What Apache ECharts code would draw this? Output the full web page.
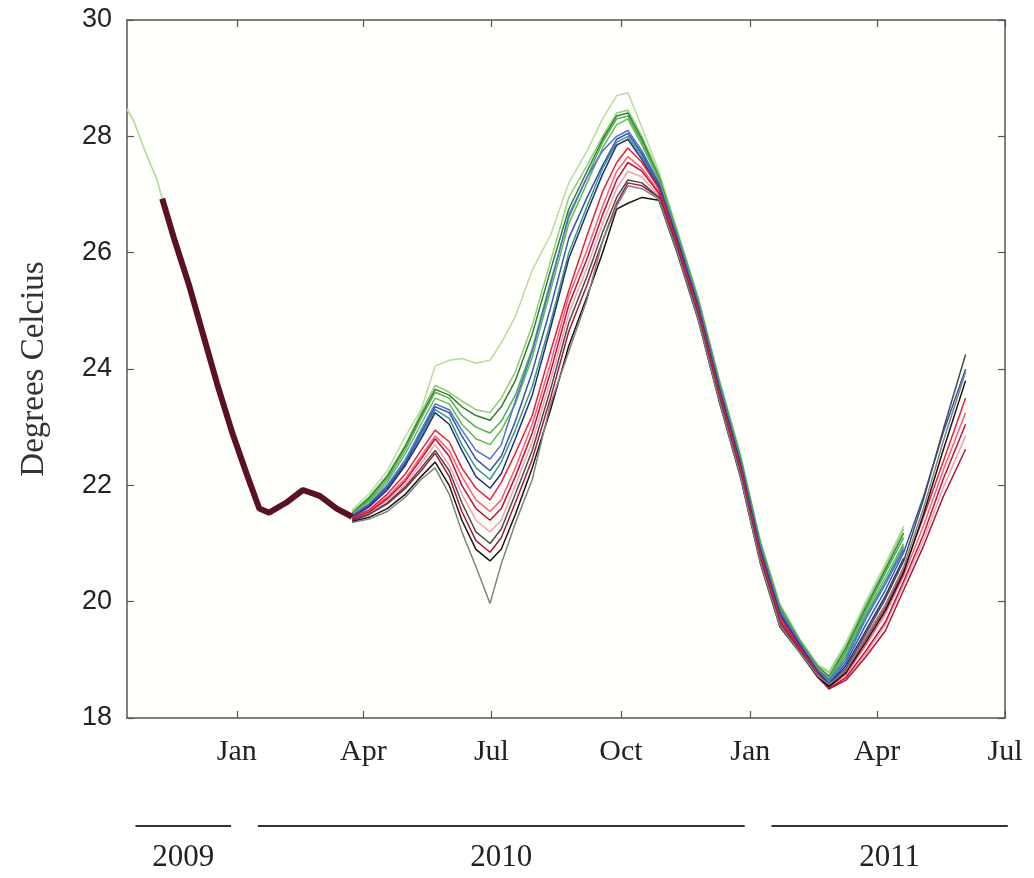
<!DOCTYPE html>
<html>
<head>
<meta charset="utf-8">
<title>Ensemble temperature forecasts</title>
<script src="https://cdn.jsdelivr.net/npm/echarts@6/dist/echarts.min.js"></script>
<style>
  html, body { margin: 0; padding: 0; background: #ffffff; }
  #chart { width: 1034px; height: 878px; }
</style>
</head>
<body>
<div id="chart"></div>
<script>
// Local-time date parsing so every x value uses the same clock.
const toTime = s => { const p = s.split('-').map(Number); return new Date(p[0], p[1] - 1, p[2]).getTime(); };
const MONTHS = ['Jan','Feb','Mar','Apr','May','Jun','Jul','Aug','Sep','Oct','Nov','Dec'];

// ---- Axis ranges and ticks ----
const axisStart = '2009-10-15';
const axisEnd = '2011-07-01';
const quarterTicks = ['2010-01-01','2010-04-01','2010-07-01','2010-10-01','2011-01-01','2011-04-01','2011-07-01'];
const tempMin = 18, tempMax = 30, tempStep = 2;

// ---- Year brackets under the axis ----
const yearLabels = ['2009', '2010', '2011'];
const yearFrom = ['2009-10-21', '2010-01-16', '2011-01-16'];
const yearTo   = ['2009-12-28', '2010-12-28', '2011-07-03'];

// ---- Observed record before the forecasts start ----
const obsDates  = ['2009-10-15','2009-10-20','2009-10-26','2009-11-01','2009-11-05','2009-11-09'];
const obsValues = [28.47, 28.25, 27.86, 27.5, 27.28, 26.93];

// ---- Shared spin-up segment (all members coincide) ----
const spinupDates = ['2009-11-09','2009-11-18','2009-11-28','2009-12-08','2009-12-18','2009-12-29',
  '2010-01-08','2010-01-17','2010-01-24','2010-02-05','2010-02-17','2010-03-01','2010-03-13','2010-03-24'];
const spinupValues = [26.93, 26.2, 25.45, 24.6, 23.75, 22.89, 22.2, 21.6, 21.53, 21.7, 21.92, 21.82, 21.6, 21.46];

// ---- Ensemble members after they separate ----
const memberDates = ['2010-03-24','2010-04-05','2010-04-18','2010-05-01','2010-05-12','2010-05-22',
  '2010-06-01','2010-06-10','2010-06-20','2010-06-30','2010-07-08','2010-07-18','2010-07-30',
  '2010-08-12','2010-08-25','2010-09-07','2010-09-18','2010-09-28','2010-10-06','2010-10-16',
  '2010-10-28','2010-11-10','2010-11-25','2010-12-10','2010-12-25','2011-01-08','2011-01-22',
  '2011-02-05','2011-02-18','2011-02-26','2011-03-10','2011-03-24','2011-04-07','2011-04-20',
  '2011-05-04','2011-05-18','2011-06-03'];

const g1 = [21.58, 21.85, 22.25, 22.85, 23.3, 24.05, 24.15, 24.18, 24.1, 24.15, 24.45, 24.9, 25.7, 26.3, 27.2, 27.75, 28.3, 28.7, 28.75, 28.15, 27.4, 26.4, 25.24, 23.83, 22.54, 21.07, 19.97, 19.37, 18.92, 18.8, 19.3, 20.0, 20.65, 21.3];
const g2 = [21.55, 21.8, 22.18, 22.7, 23.25, 23.72, 23.6, 23.45, 23.3, 23.25, 23.5, 23.95, 24.75, 25.85, 26.95, 27.5, 28.0, 28.4, 28.45, 28.0, 27.35, 26.37, 25.21, 23.8, 22.51, 21.04, 19.94, 19.35, 18.9, 18.78, 19.25, 19.95, 20.6, 21.25];
const g5 = [21.52, 21.78, 22.15, 22.68, 23.2, 23.65, 23.55, 23.35, 23.2, 23.12, 23.35, 23.8, 24.6, 25.7, 26.75, 27.4, 27.95, 28.35, 28.4, 27.95, 27.3, 26.34, 25.18, 23.77, 22.48, 21.01, 19.91, 19.33, 18.88, 18.72, 19.2, 19.9, 20.55, 21.18];
const g3 = [21.5, 21.75, 22.1, 22.62, 23.15, 23.6, 23.5, 23.2, 23.0, 22.9, 23.1, 23.55, 24.35, 25.5, 26.6, 27.3, 27.9, 28.3, 28.35, 27.9, 27.28, 26.32, 25.16, 23.75, 22.46, 20.99, 19.89, 19.32, 18.86, 18.7, 19.15, 19.85, 20.5, 21.1];
const g4 = [21.5, 21.72, 22.05, 22.55, 23.05, 23.5, 23.4, 23.05, 22.8, 22.7, 22.95, 23.4, 24.2, 25.35, 26.5, 27.2, 27.8, 28.2, 28.3, 27.85, 27.25, 26.3, 25.14, 23.73, 22.44, 20.97, 19.87, 19.31, 18.85, 18.68, 19.1, 19.8, 20.42, 21.0];
const g6 = [21.47, 21.65, 21.95, 22.38, 22.85, 23.3, 23.15, 22.7, 22.3, 22.1, 22.4, 22.95, 23.7, 24.8, 26.0, 26.8, 27.45, 27.9, 28.0, 27.65, 27.15, 26.26, 25.1, 23.69, 22.4, 20.93, 19.83, 19.29, 18.83, 18.66, 19.05, 19.75, 20.35, 20.95];
const b1 = [21.48, 21.68, 22.0, 22.45, 22.95, 23.4, 23.3, 22.95, 22.6, 22.45, 22.7, 23.45, 24.3, 25.45, 26.65, 27.3, 27.75, 28.0, 28.1, 27.75, 27.2, 26.28, 25.12, 23.71, 22.42, 20.95, 19.85, 19.3, 18.82, 18.64, 19.0, 19.7, 20.3, 20.9];
const b2 = [21.47, 21.66, 21.97, 22.4, 22.9, 23.35, 23.25, 22.85, 22.45, 22.25, 22.5, 23.1, 23.95, 25.05, 26.25, 26.95, 27.5, 27.95, 28.05, 27.7, 27.18, 26.24, 25.08, 23.67, 22.38, 20.91, 19.81, 19.27, 18.8, 18.6, 18.95, 19.6, 20.2, 20.85, 21.8, 22.9, 24.0];
const b3 = [21.45, 21.63, 21.92, 22.35, 22.8, 23.25, 23.05, 22.6, 22.15, 21.95, 22.2, 22.8, 23.55, 24.7, 25.9, 26.7, 27.35, 27.85, 27.95, 27.6, 27.12, 26.2, 25.04, 23.63, 22.34, 20.87, 19.77, 19.25, 18.78, 18.58, 18.9, 19.5, 20.1, 20.75];
const r1 = [21.44, 21.58, 21.85, 22.2, 22.6, 22.95, 22.75, 22.3, 21.95, 21.75, 22.05, 22.55, 23.2, 24.3, 25.35, 26.3, 27.05, 27.55, 27.8, 27.55, 27.1, 26.16, 25.0, 23.59, 22.3, 20.83, 19.73, 19.22, 18.76, 18.55, 18.8, 19.35, 19.9, 20.55, 21.45, 22.4, 23.5];
const r2 = [21.43, 21.56, 21.8, 22.12, 22.5, 22.85, 22.6, 22.15, 21.75, 21.55, 21.75, 22.3, 23.05, 24.1, 25.25, 26.05, 26.8, 27.4, 27.65, 27.45, 27.05, 26.13, 24.97, 23.56, 22.27, 20.8, 19.7, 19.21, 18.74, 18.52, 18.75, 19.25, 19.8, 20.45, 21.3, 22.25, 23.25];
const r3 = [21.42, 21.54, 21.77, 22.08, 22.45, 22.8, 22.5, 22.0, 21.6, 21.4, 21.6, 22.15, 22.9, 23.95, 25.1, 25.9, 26.65, 27.25, 27.55, 27.4, 27.02, 26.1, 24.94, 23.53, 22.24, 20.77, 19.67, 19.19, 18.72, 18.5, 18.7, 19.15, 19.65, 20.35, 21.15, 22.1, 23.05];
const r4 = [21.41, 21.52, 21.74, 22.02, 22.38, 22.7, 22.35, 21.85, 21.4, 21.2, 21.4, 22.0, 22.75, 23.8, 24.95, 25.75, 26.5, 27.1, 27.4, 27.3, 26.98, 26.08, 24.92, 23.51, 22.22, 20.75, 19.65, 19.18, 18.71, 18.52, 18.68, 19.1, 19.6, 20.3, 21.05, 21.95, 22.85];
const r5 = [21.4, 21.5, 21.68, 21.95, 22.25, 22.55, 22.15, 21.55, 21.05, 20.85, 21.1, 21.7, 22.45, 23.5, 24.65, 25.45, 26.2, 26.85, 27.2, 27.15, 26.95, 26.05, 24.89, 23.48, 22.19, 20.72, 19.62, 19.16, 18.7, 18.5, 18.65, 19.05, 19.5, 20.2, 20.95, 21.8, 22.62];
const k3 = [21.4, 21.5, 21.7, 21.98, 22.3, 22.6, 22.25, 21.7, 21.2, 21.0, 21.25, 21.85, 22.6, 23.65, 24.8, 25.6, 26.35, 26.95, 27.25, 27.2, 26.95, 26.04, 24.88, 23.47, 22.18, 20.71, 19.61, 19.15, 18.72, 18.56, 18.85, 19.45, 20.05, 20.7, 21.75, 22.95, 24.25];
const k2 = [21.38, 21.45, 21.6, 21.85, 22.15, 22.4, 22.0, 21.4, 20.9, 20.7, 20.9, 21.5, 22.3, 23.3, 24.4, 25.25, 26.0, 26.75, 26.85, 26.95, 26.9, 26.0, 24.84, 23.43, 22.14, 20.67, 19.57, 19.13, 18.7, 18.54, 18.78, 19.3, 19.85, 20.5, 21.5, 22.6, 23.8];
const k1 = [21.36, 21.42, 21.55, 21.8, 22.1, 22.3, 21.85, 21.2, 20.6, 19.97, 20.65, 21.35, 22.1, 23.4, 24.3, 25.2, 26.2, 26.8, 27.15, 27.1, 26.92, 26.02, 24.86, 23.45, 22.16, 20.69, 19.59, 19.14, 18.72, 18.58, 18.82, 19.4, 19.95, 20.6, 21.6, 22.75, 23.95];

// Members in drawing order, with their line colours.
const members = [g1, g2, g5, g3, g4, g6, b1, b2, b3, r4, r2, r1, r3, r5, k3, k2, k1];
const memberColors = ['#b6dc9e', '#8fcc74', '#2f7d33', '#4caf50', '#62b955', '#3c9a78',
  '#4b70d2', '#3454b4', '#202f86',
  '#f2a0b2', '#ff5b7b', '#e5223c', '#c3112f', '#a8163a',
  '#4a4a4a', '#151515', '#808080'];

const toPairs = (dates, values) => values.map((v, i) => [toTime(dates[i]), v]);

const chart = echarts.init(document.getElementById('chart'), null, { renderer: 'canvas' });

const tickTimes = quarterTicks.map(toTime);
const frameLine = { show: true, lineStyle: { color: '#555555', width: 1.5 } };
const innerTick = { show: true, inside: true, length: 7, lineStyle: { color: '#555555', width: 1.2 } };

const series = [];
series.push({
  name: 'observed', type: 'line', data: toPairs(obsDates, obsValues),
  showSymbol: false, symbol: 'none', lineStyle: { color: '#b6dc9e', width: 1.8 }, z: 3
});
members.forEach((vals, i) => {
  series.push({
    name: 'member ' + (i + 1), type: 'line', data: toPairs(memberDates, vals),
    showSymbol: false, symbol: 'none', lineStyle: { color: memberColors[i], width: 1.5 }, z: 3
  });
});
series.push({
  name: 'spin-up', type: 'line', data: toPairs(spinupDates, spinupValues),
  showSymbol: false, symbol: 'none', lineStyle: { color: '#5a1222', width: 6 }, z: 4
});

chart.setOption({
  animation: false,
  backgroundColor: '#ffffff',
  grid: { left: 127, right: 29, top: 20, bottom: 160, show: true, backgroundColor: '#fffffb', borderWidth: 0 },
  xAxis: [
    {
      type: 'value', position: 'bottom', min: toTime(axisStart), max: toTime(axisEnd),
      axisLine: frameLine, splitLine: { show: false },
      axisTick: Object.assign({ customValues: tickTimes }, innerTick),
      axisLabel: {
        customValues: tickTimes, margin: 19,
        fontFamily: 'Liberation Serif', fontSize: 30, color: '#222222',
        formatter: v => MONTHS[new Date(v).getMonth()]
      }
    },
    {
      type: 'value', position: 'top', min: toTime(axisStart), max: toTime(axisEnd),
      axisLine: frameLine, splitLine: { show: false },
      axisTick: Object.assign({ customValues: tickTimes }, innerTick),
      axisLabel: { show: false }
    }
  ],
  yAxis: [
    {
      type: 'value', position: 'left', min: tempMin, max: tempMax, interval: tempStep,
      axisLine: frameLine, splitLine: { show: false }, axisTick: innerTick,
      axisLabel: { margin: 15, fontFamily: 'Liberation Sans', fontSize: 27, color: '#222222' },
      name: 'Degrees Celcius', nameLocation: 'middle', nameGap: 76, nameRotate: 90,
      nameTextStyle: { fontFamily: 'Liberation Serif', fontSize: 33, color: '#333333' }
    },
    {
      type: 'value', position: 'right', min: tempMin, max: tempMax, interval: tempStep,
      axisLine: frameLine, splitLine: { show: false }, axisTick: innerTick,
      axisLabel: { show: false }
    }
  ],
  series: series
});

// Year brackets: a rule under each year's months, with the year below it.
const barY = 826, labelY = 858;
const graphics = [];
yearLabels.forEach((label, i) => {
  const x0 = chart.convertToPixel({ xAxisIndex: 0 }, toTime(yearFrom[i]));
  const x1 = chart.convertToPixel({ xAxisIndex: 0 }, toTime(yearTo[i]));
  graphics.push({
    type: 'line', shape: { x1: x0, y1: barY, x2: x1, y2: barY },
    style: { stroke: '#333333', lineWidth: 2 }
  });
  graphics.push({
    type: 'text', x: (x0 + x1) / 2, y: labelY,
    style: { text: label, fill: '#222222', font: '31px "Liberation Serif"', align: 'center', verticalAlign: 'middle' }
  });
});
chart.setOption({ graphic: graphics });
</script>
</body>
</html>
